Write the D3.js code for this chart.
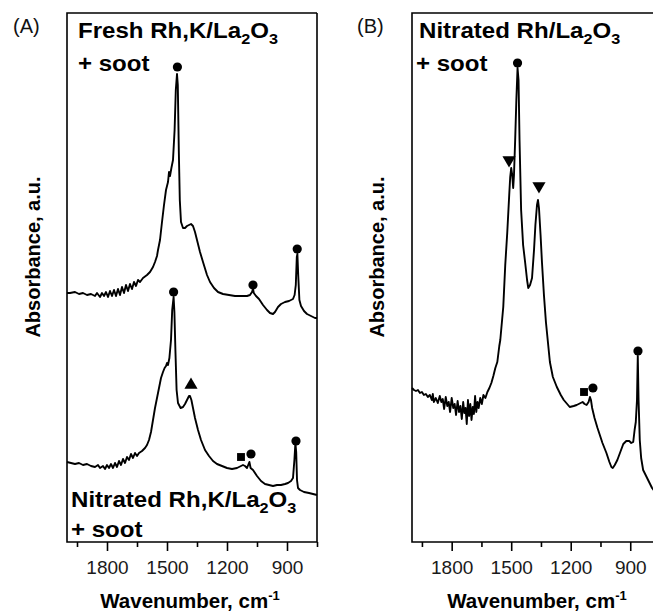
<!DOCTYPE html>
<html>
<head>
<meta charset="utf-8">
<script src="https://cdn.jsdelivr.net/npm/d3@7"></script>
<style>
  body { margin: 0; background: #fff; }
  svg { display: block; font-family: "Liberation Sans", Arial, sans-serif; }
  .frame { fill: none; stroke: #000; stroke-width: 1.6px; }
  .spec { fill: none; stroke: #000; stroke-width: 1.9px; stroke-linejoin: round; }
</style>
</head>
<body>
<svg id="chart" width="653" height="613"></svg>
<script>
// wavenumber (cm-1) and absorbance (a.u., arbitrary offset)

// (A) fresh Rh,K/La2O3 + soot
var freshWn = [2000,1985,1960,1940,1920,1900,1880,1860,1850,1835,1825,1815,1805,1795,1785,1775,1765,1755,1745,1735,1725,1715,1705,1695,1685,1675,1665,1655,1645,1635,1620,1600,1585,1570,1560,1550,1545,1535,1525,1515,1505,1495,1490,1485,1478,1470,1462,1456,1450,1446,1441,1436,1430,1420,1410,1400,1390,1380,1370,1360,1350,1335,1320,1300,1285,1265,1245,1220,1190,1160,1130,1100,1085,1075,1070,1066,1055,1040,1020,1000,985,970,960,945,930,910,890,870,862,856,851,848,844,838,830,815,800,780,760,750];
var freshAbs = [2.49,2.49,2.50,2.48,2.49,2.47,2.48,2.46,2.49,2.45,2.49,2.46,2.50,2.45,2.51,2.46,2.52,2.46,2.53,2.47,2.55,2.49,2.57,2.51,2.58,2.53,2.60,2.56,2.62,2.60,2.64,2.67,2.70,2.75,2.80,2.86,2.92,3.02,3.20,3.37,3.52,3.60,3.70,3.66,3.74,3.82,4.12,4.52,4.68,4.57,3.92,3.42,3.20,3.14,3.14,3.16,3.17,3.18,3.16,3.10,3.02,2.90,2.80,2.67,2.60,2.54,2.50,2.48,2.47,2.46,2.46,2.46,2.47,2.50,2.53,2.49,2.46,2.43,2.37,2.32,2.29,2.28,2.30,2.35,2.38,2.40,2.41,2.43,2.47,2.57,2.85,2.88,2.67,2.42,2.36,2.31,2.28,2.26,2.24,2.24];

// (A) nitrated Rh,K/La2O3 + soot
var nitKWn = [2000,1980,1960,1940,1920,1900,1880,1860,1845,1835,1820,1810,1800,1790,1780,1770,1760,1750,1740,1730,1720,1710,1700,1690,1680,1670,1660,1650,1640,1625,1610,1600,1590,1580,1570,1560,1550,1540,1530,1520,1512,1505,1500,1495,1488,1480,1474,1467,1463,1458,1452,1445,1432,1420,1410,1400,1390,1385,1378,1370,1360,1345,1330,1310,1290,1270,1250,1225,1200,1175,1150,1130,1120,1110,1100,1092,1088,1082,1070,1050,1030,1010,990,970,950,930,910,895,880,870,863,858,854,850,845,835,815,790,770,750];
var nitKAbs = [0.80,0.79,0.78,0.79,0.77,0.78,0.76,0.75,0.77,0.74,0.76,0.73,0.77,0.74,0.78,0.74,0.79,0.75,0.81,0.77,0.83,0.79,0.85,0.82,0.88,0.84,0.89,0.86,0.89,0.91,0.94,0.97,1.02,1.10,1.22,1.34,1.44,1.54,1.64,1.70,1.74,1.76,1.79,1.77,1.84,2.02,2.32,2.45,2.30,1.92,1.52,1.39,1.34,1.35,1.38,1.42,1.46,1.46,1.42,1.34,1.24,1.12,1.02,0.92,0.86,0.81,0.78,0.76,0.74,0.73,0.74,0.76,0.77,0.76,0.74,0.78,0.80,0.74,0.72,0.66,0.61,0.58,0.57,0.56,0.57,0.57,0.58,0.59,0.61,0.64,0.82,0.99,0.90,0.62,0.54,0.52,0.50,0.49,0.48,0.47];

// (B) nitrated Rh/La2O3 + soot
var nitWn = [2000,1990,1980,1970,1960,1950,1940,1930,1920,1910,1900,1895,1890,1880,1870,1860,1852,1845,1838,1830,1822,1815,1808,1800,1792,1785,1778,1770,1763,1756,1749,1742,1736,1730,1724,1718,1712,1706,1700,1694,1688,1682,1676,1670,1664,1656,1648,1640,1630,1620,1610,1600,1590,1580,1570,1560,1555,1540,1530,1520,1510,1505,1500,1495,1490,1486,1480,1474,1468,1463,1458,1450,1440,1430,1420,1414,1405,1395,1385,1378,1370,1365,1360,1352,1345,1335,1325,1315,1305,1290,1270,1250,1235,1205,1185,1170,1150,1140,1130,1120,1110,1103,1098,1092,1080,1065,1055,1040,1020,1005,995,988,978,965,950,935,920,905,895,885,878,872,866,862,858,852,845,835,815,790,770,750];
var nitAbs = [1.54,1.52,1.51,1.52,1.49,1.50,1.47,1.48,1.45,1.47,1.42,1.48,1.40,1.44,1.39,1.46,1.40,1.43,1.33,1.45,1.36,1.40,1.30,1.44,1.34,1.38,1.27,1.41,1.30,1.36,1.23,1.40,1.29,1.34,1.18,1.42,1.26,1.38,1.22,1.35,1.28,1.46,1.30,1.40,1.34,1.44,1.38,1.47,1.44,1.50,1.54,1.59,1.66,1.74,1.80,1.96,2.02,2.35,2.77,3.09,3.47,3.65,3.74,3.67,3.54,3.67,4.02,4.42,4.74,4.62,4.02,3.32,2.97,2.80,2.62,2.54,2.57,2.64,2.92,3.17,3.37,3.42,3.34,3.07,2.80,2.47,2.20,2.00,1.80,1.65,1.55,1.47,1.42,1.35,1.36,1.37,1.39,1.40,1.38,1.37,1.40,1.45,1.42,1.34,1.24,1.14,1.08,0.99,0.89,0.80,0.75,0.74,0.77,0.82,0.90,0.98,1.01,1.01,0.99,1.00,1.12,1.20,1.42,1.86,1.42,1.02,0.84,0.72,0.64,0.54,0.49,0.45];

// band markers: [wavenumber, absorbance]
var freshDots = [[1448,4.75],[1070,2.57],[849,2.93]];
var nitKDots = [[1467,2.50],[1080,0.88],[855,1.01]];
var nitKTriangles = [[1380,1.57]];
var nitKSquares = [[1130,0.85]];
var nitDots = [[1468,4.79],[1088,1.54],[861,1.91]];
var nitTrianglesDown = [[1511,3.82],[1360,3.56]];
var nitSquares = [[1133,1.50]];

var majorTicks = [1800,1500,1200,900];
var minorTicks = [1950,1650,1350,1050,750];

var svg = d3.select("#chart");

function drawPanel(p) {
  var x = d3.scaleLinear().domain([2000, 750]).range([p.left, p.right]);
  var y = d3.scaleLinear().domain([0, 5.29]).range([542, 13]);
  var g = svg.append("g");

  // frame
  g.append("path").attr("class", "frame")
    .attr("d", "M" + p.right + ",13H" + p.left + "V542H" + p.right + (p.right < 653 ? "V13" : ""));

  // axis ticks (outward)
  var ax = d3.axisBottom(x).tickValues(majorTicks).tickSize(9).tickPadding(10).tickFormat(d3.format("d"));
  var axG = g.append("g").attr("transform", "translate(0,542)").call(ax);
  axG.select(".domain").remove();
  axG.selectAll("line").attr("stroke-width", 1.6);
  axG.selectAll("text").attr("font-size", 19).attr("fill", "#1a1a1a")
    .attr("font-family", "'Liberation Sans', Arial, sans-serif");
  var axm = d3.axisBottom(x).tickValues(minorTicks).tickSize(5).tickFormat("");
  var axmG = g.append("g").attr("transform", "translate(0,542)").call(axm);
  axmG.select(".domain").remove();
  axmG.selectAll("line").attr("stroke-width", 1.6);

  var line = d3.line().x(function(d) { return x(d[0]); }).y(function(d) { return y(d[1]); });
  p.series.forEach(function(s) {
    g.append("path").attr("class", "spec").attr("d", line(d3.zip(s[0], s[1])));
  });

  p.dots.forEach(function(d) {
    g.append("circle").attr("cx", x(d[0])).attr("cy", y(d[1])).attr("r", 4.6).attr("fill", "#000");
  });
  (p.tri || []).forEach(function(d) {
    g.append("path").attr("d", d3.symbol(d3.symbolTriangle, 75)())
      .attr("transform", "translate(" + x(d[0]) + "," + y(d[1]) + ")");
  });
  (p.triDown || []).forEach(function(d) {
    g.append("path").attr("d", d3.symbol(d3.symbolTriangle, 75)())
      .attr("transform", "translate(" + x(d[0]) + "," + y(d[1]) + ") rotate(180)");
  });
  (p.squares || []).forEach(function(d) {
    g.append("path").attr("d", d3.symbol(d3.symbolSquare, 62)())
      .attr("transform", "translate(" + x(d[0]) + "," + y(d[1]) + ")");
  });

  // panel letter
  svg.append("text").attr("x", p.letterX).attr("y", 33).attr("font-size", 20).attr("fill", "#111").text(p.letter);

  // y title
  svg.append("text").attr("transform", "translate(" + p.yTitleX + ",257) rotate(-90)")
    .attr("text-anchor", "middle").attr("font-size", 20).attr("font-weight", "bold")
    .text("Absorbance, a.u.");

  // x title
  var xt = svg.append("text").attr("x", p.xTitleX).attr("y", 608)
    .attr("text-anchor", "middle").attr("font-size", 20.5).attr("font-weight", "bold");
  xt.append("tspan").text("Wavenumber, cm");
  xt.append("tspan").attr("dy", -8).attr("font-size", 13).text("-1");
}

// sample label with subscripts (source lettering is slightly wide)
function label(xp, yp, parts) {
  var t = svg.append("text").attr("transform", "translate(" + xp + "," + yp + ") scale(1.12,1)")
    .attr("font-size", 21.5).attr("font-weight", "bold");
  parts.forEach(function(pt) {
    if (pt.sub) t.append("tspan").attr("dy", 6).attr("font-size", 14.5).text(pt.sub);
    else t.append("tspan").attr("dy", pt.up ? -6 : 0).text(pt.t);
  });
}

drawPanel({
  left: 67, right: 317, letter: "(A)", letterX: 13, yTitleX: 40, xTitleX: 190,
  series: [[freshWn, freshAbs], [nitKWn, nitKAbs]],
  dots: freshDots.concat(nitKDots), tri: nitKTriangles, squares: nitKSquares
});
drawPanel({
  left: 412, right: 660, letter: "(B)", letterX: 357, yTitleX: 384, xTitleX: 537,
  series: [[nitWn, nitAbs]],
  dots: nitDots, triDown: nitTrianglesDown, squares: nitSquares
});

label(78, 38, [{t: "Fresh Rh,K/La"}, {sub: "2"}, {t: "O", up: true}, {sub: "3"}]);
label(78, 71, [{t: "+ soot"}]);
label(71, 507, [{t: "Nitrated Rh,K/La"}, {sub: "2"}, {t: "O", up: true}, {sub: "3"}]);
label(71, 537, [{t: "+ soot"}]);
label(419, 38, [{t: "Nitrated Rh/La"}, {sub: "2"}, {t: "O", up: true}, {sub: "3"}]);
label(416, 71, [{t: "+ soot"}]);
</script>
</body>
</html>
